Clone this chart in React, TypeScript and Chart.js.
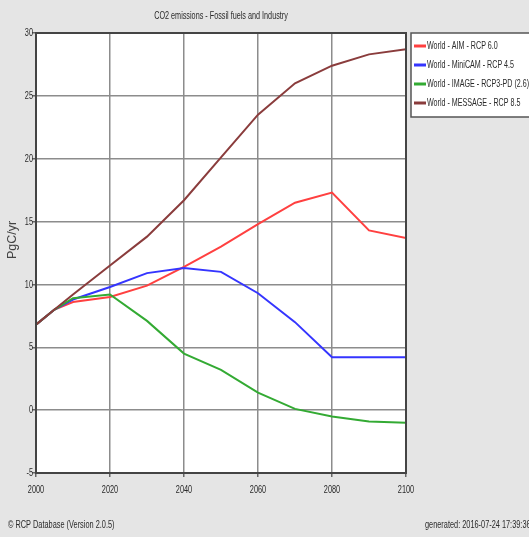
import React, { useEffect, useRef } from "react";
import { Chart, registerables } from "chart.js";

Chart.register(...registerables);

const years = [2000, 2005, 2010, 2020, 2030, 2040, 2050, 2060, 2070, 2080, 2090, 2100];
const aimRcp60 = [6.8, 8.0, 8.6, 9.0, 9.9, 11.4, 13.0, 14.8, 16.5, 17.3, 14.3, 13.7];
const minicamRcp45 = [6.8, 8.0, 8.8, 9.8, 10.9, 11.3, 11.0, 9.3, 7.0, 4.2, 4.2, 4.2];
const imageRcp26 = [6.8, 8.0, 8.9, 9.2, 7.1, 4.5, 3.2, 1.4, 0.1, -0.5, -0.9, -1.0];
const messageRcp85 = [6.8, 8.0, 9.2, 11.5, 13.8, 16.7, 20.1, 23.5, 26.0, 27.4, 28.3, 28.7];

const seriesNames = [
  "World - AIM - RCP 6.0",
  "World - MiniCAM - RCP 4.5",
  "World - IMAGE - RCP3-PD (2.6)",
  "World - MESSAGE - RCP 8.5",
];
const seriesColors = ["#ff4040", "#3535ff", "#33aa33", "#8a3c3c"];

const chartTitle = "CO2 emissions - Fossil fuels and Industry";
const yAxisTitle = "PgC/yr";
const footerLeft = "\u00a9 RCP Database (Version 2.0.5)";
const footerRight = "generated: 2016-07-24 17:39:36";

const FONT = "'Liberation Sans', Arial, sans-serif";

function narrowText(ctx: any, text: string, x: number, y: number, align: string, size = 11, squeeze = 0.62) {
  ctx.save();
  ctx.font = `${size}px ${FONT}`;
  ctx.textBaseline = "middle";
  ctx.textAlign = "left";
  const w = ctx.measureText(text).width * squeeze;
  let x0 = x;
  if (align === "center") x0 = x - w / 2;
  else if (align === "right") x0 = x - w;
  ctx.translate(x0, y);
  ctx.scale(squeeze, 1);
  ctx.fillText(text, 0, 0);
  ctx.restore();
}

const decorPlugin = {
  id: "decor",
  beforeDraw(chart: any) {
    const { ctx, chartArea } = chart;
    ctx.save();
    ctx.fillStyle = "#e5e5e5";
    ctx.fillRect(0, 0, chart.width, chart.height);
    ctx.fillStyle = "#ffffff";
    ctx.fillRect(chartArea.left, chartArea.top, chartArea.right - chartArea.left, chartArea.bottom - chartArea.top);
    ctx.restore();
  },
  afterDraw(chart: any) {
    const { ctx, chartArea } = chart;
    ctx.save();
    ctx.strokeStyle = "#444";
    ctx.lineWidth = 2;
    ctx.strokeRect(chartArea.left, chartArea.top, chartArea.right - chartArea.left, chartArea.bottom - chartArea.top);

    ctx.fillStyle = "#2a2a2a";
    const xs = chart.scales.x;
    xs.ticks.forEach((t: any, i: number) => {
      narrowText(ctx, String(t.value), xs.getPixelForTick(i), 490, "center", 11.5, 0.64);
    });
    const ys = chart.scales.y;
    ys.ticks.forEach((t: any, i: number) => {
      narrowText(ctx, String(t.value), chartArea.left - 3, ys.getPixelForTick(i), "right", 11.5, 0.64);
    });

    narrowText(ctx, chartTitle, (chartArea.left + chartArea.right) / 2, 16, "center", 11.5, 0.63);

    ctx.save();
    ctx.translate(13, 240);
    ctx.rotate(-Math.PI / 2);
    ctx.font = `12.5px ${FONT}`;
    ctx.fillStyle = "#444";
    ctx.textAlign = "center";
    ctx.textBaseline = "middle";
    ctx.fillText(yAxisTitle, 0, 0);
    ctx.restore();

    const lx = chartArea.right + 5;
    const ly = chartArea.top;
    ctx.fillStyle = "#ffffff";
    ctx.fillRect(lx, ly, chart.width - lx + 2, 84);
    ctx.strokeStyle = "#555";
    ctx.lineWidth = 1.5;
    ctx.strokeRect(lx, ly, chart.width - lx + 5, 84);
    chart.data.datasets.forEach((ds: any, i: number) => {
      const y = ly + 13 + i * 19;
      ctx.strokeStyle = ds.borderColor;
      ctx.lineWidth = 3;
      ctx.beginPath();
      ctx.moveTo(lx + 3, y);
      ctx.lineTo(lx + 15, y);
      ctx.stroke();
      ctx.fillStyle = "#2a2a2a";
      narrowText(ctx, ds.label, lx + 16, y, "left", 11.5, 0.62);
    });

    ctx.fillStyle = "#2a2a2a";
    narrowText(ctx, footerLeft, 8, 525, "left", 11.5, 0.64);
    narrowText(ctx, footerRight, 425, 525, "left", 11.5, 0.64);
    ctx.restore();
  },
};

export default function App() {
  const ref = useRef<HTMLCanvasElement | null>(null);
  useEffect(() => {
    document.body.style.margin = "0";
    const canvas = ref.current!;
    const datasets = [aimRcp60, minicamRcp45, imageRcp26, messageRcp85].map((vals, i) => ({
      label: seriesNames[i],
      data: years.map((yr, j) => ({ x: yr, y: vals[j] })),
      borderColor: seriesColors[i],
      backgroundColor: seriesColors[i],
      borderWidth: 2,
      pointRadius: 0,
      tension: 0,
      order: 3 - i,
    }));
    const chart = new Chart(canvas, {
      type: "line",
      data: { datasets },
      options: {
        responsive: false,
        animation: false,
        devicePixelRatio: 1,
        layout: { padding: { left: 0, top: 33, right: 123, bottom: 0 } },
        plugins: {
          legend: { display: false },
          title: { display: false },
          tooltip: { enabled: false },
        },
        scales: {
          x: {
            type: "linear",
            min: 2000,
            max: 2100,
            afterFit: (s: any) => {
              s.height = 64;
            },
            ticks: {
              stepSize: 20,
              color: "rgba(0,0,0,0)",
              font: { size: 11, family: FONT },
              padding: 6,
              maxRotation: 0,
              callback: (v: any) => String(v),
            },
            grid: { color: "#8c8c8c", lineWidth: 1.5, tickLength: 4, tickColor: "#666" },
            border: { display: true, color: "#444", width: 2 },
          },
          y: {
            type: "linear",
            min: -5,
            max: 30,
            afterFit: (s: any) => {
              s.width = 36;
            },
            ticks: {
              stepSize: 5,
              color: "rgba(0,0,0,0)",
              font: { size: 11, family: FONT },
              padding: 1,
            },
            grid: { color: "#8c8c8c", lineWidth: 1.5, tickLength: 4, tickColor: "#666" },
            border: { display: true, color: "#444", width: 2 },
          },
        },
      },
      plugins: [decorPlugin],
    });
    return () => chart.destroy();
  }, []);
  return (
    <div style={{ width: 529, height: 537 }}>
      <canvas ref={ref} width={529} height={537} />
    </div>
  );
}
